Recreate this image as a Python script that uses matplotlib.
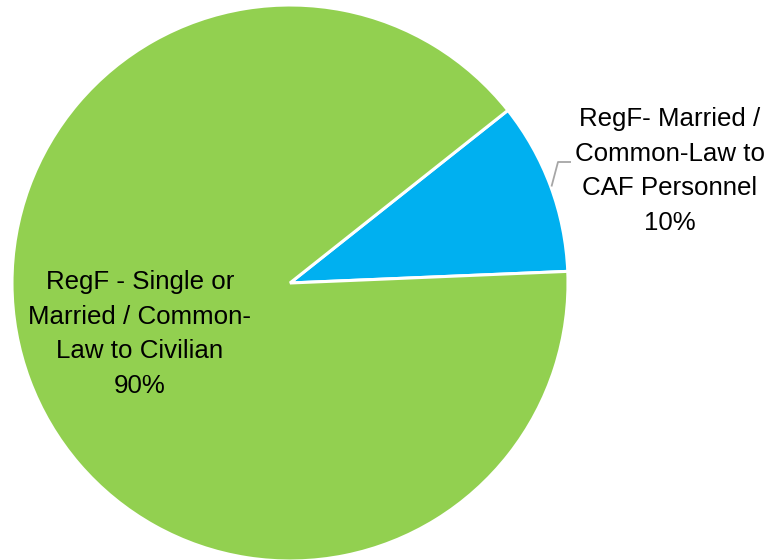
import matplotlib
matplotlib.use("Agg")
import matplotlib.pyplot as plt

labels = ["RegF- Married /\nCommon-Law to\nCAF Personnel", "RegF - Single or\nMarried / Common-\nLaw to Civilian"]
values = [10, 90]
colors = ["#00B0F0", "#92D050"]

W, H = 768, 560
fig = plt.figure(figsize=(W / 100, H / 100), dpi=100)
ax = fig.add_axes([0, 0, 1, 1])

cx, cy, r = 290, H - 283, 278
wedges, _ = ax.pie(values, colors=colors, startangle=2.4, counterclock=True,
                   center=(cx, cy), radius=r, frame=True,
                   wedgeprops=dict(edgecolor="white", linewidth=2.2))
ax.set_xlim(0, W)
ax.set_ylim(0, H)
ax.set_aspect("equal")
ax.axis("off")

font = dict(family="Liberation Sans", fontsize=18.6, color="#000000",
            ha="center", va="center", linespacing=1.55)
total = sum(values)
ax.text(670, H - 171, f"{labels[0]}\n{values[0] / total:.0%}", **font)
ax.text(140, H - 334, f"{labels[1]}\n{values[1] / total:.0%}", **font)

# leader line for small slice
ax.plot([551.5, 558, 571], [H - 186.5, H - 162, H - 162], color="#A6A6A6", lw=1.3,
        solid_capstyle="butt")

fig.savefig("out.png", dpi=100)
